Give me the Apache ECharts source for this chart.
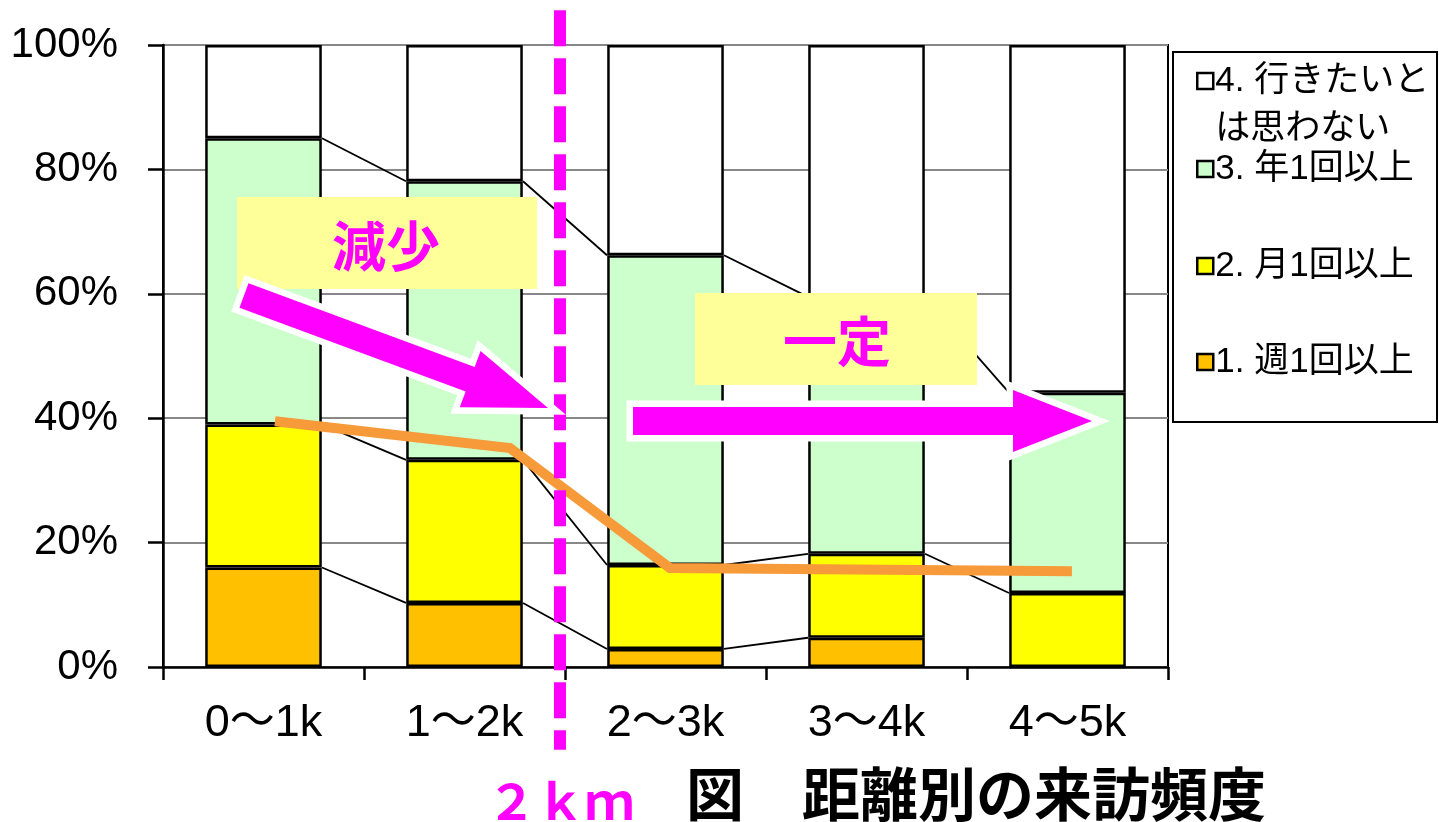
<!DOCTYPE html>
<html lang="ja">
<head>
<meta charset="UTF-8">
<title>距離別の来訪頻度</title>
<style>
  html, body { margin: 0; padding: 0; background: #fff; }
  #main { width: 1439px; height: 822px; }
</style>
</head>
<body>
<div id="main"></div>
<script src="https://cdn.jsdelivr.net/npm/echarts@6/dist/echarts.min.js"></script>
<script>
// ---- data (percent) ----
var categories = ['0～1k', '1～2k', '2～3k', '3～4k', '4～5k'];
var seriesNames = ['1. 週1回以上', '2. 月1回以上', '3. 年1回以上', '4. 行きたいと\nは思わない'];
var weekly = [16.0, 10.3, 2.9, 4.7, 0];
var monthly = [23.0, 23.0, 13.5, 13.5, 11.9];
var yearly = [46.0, 44.8, 49.8, 41.3, 32.2];
var never = [15.0, 21.9, 33.8, 40.5, 55.9];
var yTicks = [0, 20, 40, 60, 80, 100];

// hand-drawn trend line (x in category units, 0..5)
var trendX = [0.557, 1.726, 2.522, 4.522];
var trendY = [39.5, 35.2, 15.9, 15.4];
// 2km marker
var markerX = 1.975;
var markerY = [105.6, -13.3];

var colors = ['#FFC000', '#FFFF00', '#CCFFCC', '#FFFFFF'];
var latin = '"Liberation Sans", "Noto Sans CJK JP", sans-serif';
var cjk = '"Noto Sans CJK JP", sans-serif';

var myChart = echarts.init(document.getElementById('main'));

// series lines between bar tops (Excel style)
var halfBar = 0.291;
var values = [weekly, monthly, yearly, never];
var segs = [];
var cum = [0, 0, 0, 0, 0];
for (var s = 0; s < 3; s++) {
    var prev = cum.slice();
    for (var i = 0; i < categories.length; i++) cum[i] = prev[i] + values[s][i];
    for (var j = 0; j < categories.length - 1; j++) {
        if (values[s][j] === 0 && s === 0) continue;
        if (values[s][j + 1] === 0 && s === 0) continue;
        segs.push({ coords: [[j + 0.5 + halfBar, cum[j]], [j + 1.5 - halfBar, cum[j + 1]]] });
    }
}

var barSeries = [];
for (var k = 0; k < 4; k++) {
    barSeries.push({
        name: seriesNames[k],
        type: 'bar',
        stack: 'all',
        barWidth: '58%',
        z: 2,
        itemStyle: { color: colors[k], borderColor: '#000', borderWidth: 2.5 },
        emphasis: { disabled: true },
        data: values[k]
    });
}

var trendData = [];
for (var t = 0; t < trendX.length; t++) trendData.push([trendX[t], trendY[t]]);

function legendAt(name, top) {
    return {
        data: [{ name: name, icon: 'rect' }],
        orient: 'vertical',
        left: 1196,
        top: top,
        padding: 0,
        itemWidth: 16,
        itemHeight: 16,
        itemGap: 0,
        z: 6,
        selectedMode: false,
        itemStyle: { borderColor: '#000', borderWidth: 2.5 },
        formatter: function (n) {
            // first line of the two-line item sits level with its marker
            return n.indexOf('\n') >= 0 ? ' \n' + n : n;
        },
        textStyle: { fontFamily: latin, fontSize: 35, color: '#000', lineHeight: 48, padding: [0, 0, 0, -3] }
    };
}

function arrow(tail, tip, sh, hh, hl) {
    var dx = tip[0] - tail[0], dy = tip[1] - tail[1];
    var len = Math.sqrt(dx * dx + dy * dy);
    var ux = dx / len, uy = dy / len, nx = -uy, ny = ux;
    var bx = tip[0] - ux * hl, by = tip[1] - uy * hl;
    return [
        [tail[0] + nx * sh, tail[1] + ny * sh],
        [bx + nx * sh, by + ny * sh],
        [bx + nx * hh, by + ny * hh],
        [tip[0], tip[1]],
        [bx - nx * hh, by - ny * hh],
        [bx - nx * sh, by - ny * sh],
        [tail[0] - nx * sh, tail[1] - ny * sh]
    ];
}
var arrow1 = arrow([244, 295.5], [548, 408], 13, 30, 83);
var arrow2 = arrow([633, 421], [1092, 421], 14, 31, 79);

var option = {
    animation: false,
    backgroundColor: '#fff',
    grid: {
        left: 163, right: 271, top: 45, bottom: 155,
        outerBoundsMode: 'none', containLabel: false,
        show: true, borderColor: '#000', borderWidth: 2, backgroundColor: 'transparent'
    },
    legend: [
        legendAt(seriesNames[3], 9),
        legendAt(seriesNames[2], 145),
        legendAt(seriesNames[1], 242),
        legendAt(seriesNames[0], 338)
    ],
    xAxis: [{
        type: 'category',
        data: categories,
        axisLine: { lineStyle: { color: '#000', width: 2.5 } },
        axisTick: { show: true, length: 13, lineStyle: { color: '#000', width: 2.5 } },
        axisLabel: { color: '#000', fontFamily: latin, fontSize: 45, margin: 34 },
        splitLine: { show: false }
    }, {
        type: 'value', min: 0, max: 5, show: false
    }],
    yAxis: {
        type: 'value',
        min: 0, max: 100, interval: 20,
        axisLine: { show: true, lineStyle: { color: '#000', width: 2.5 } },
        axisTick: { show: true, length: 15, lineStyle: { color: '#000', width: 2.5 } },
        axisLabel: {
            color: '#000', fontFamily: latin, fontSize: 42, margin: 45,
            formatter: function (v) { return yTicks.indexOf(v) >= 0 ? v + '%' : ''; }
        },
        splitLine: { show: true, lineStyle: { color: '#888', width: 2 } }
    },
    series: barSeries.concat([
        {
            type: 'lines',
            coordinateSystem: 'cartesian2d',
            xAxisIndex: 1,
            z: 3,
            silent: true,
            lineStyle: { color: '#000', width: 1.8, opacity: 1 },
            data: segs
        },
        {
            type: 'line',
            xAxisIndex: 1,
            z: 4,
            symbol: 'none',
            silent: true,
            lineStyle: { color: '#F79A3A', width: 10, cap: 'butt', join: 'miter' },
            data: trendData
        },
        {
            type: 'line',
            xAxisIndex: 1,
            z: 8,
            clip: false,
            symbol: 'none',
            silent: true,
            lineStyle: { color: '#FF00FF', width: 12, type: [36, 12], cap: 'butt' },
            data: [[markerX, markerY[0]], [markerX, markerY[1]]]
        }
    ]),
    graphic: [
        // legend frame
        { type: 'rect', z: 1, shape: { x: 1173, y: 52, width: 264, height: 370 },
          style: { fill: '#fff', stroke: '#000', lineWidth: 2 } },
        // label boxes
        { type: 'rect', z: 20, shape: { x: 237, y: 197, width: 300, height: 92 }, style: { fill: '#FFFF99' } },
        { type: 'text', z: 21, x: 386, y: 246,
          style: { text: '減少', fill: '#FF00FF', font: 'bold 54px ' + cjk, align: 'center', verticalAlign: 'middle' } },
        { type: 'rect', z: 20, shape: { x: 695, y: 293, width: 282, height: 92 }, style: { fill: '#FFFF99' } },
        { type: 'text', z: 21, x: 837, y: 341,
          style: { text: '一定', fill: '#FF00FF', font: 'bold 54px ' + cjk, align: 'center', verticalAlign: 'middle' } },
        // arrows
        { type: 'polygon', z: 30, shape: { points: arrow1 },
          style: { fill: '#fff', stroke: '#fff', lineWidth: 13, lineJoin: 'miter', miterLimit: 10 } },
        { type: 'polygon', z: 31, shape: { points: arrow1 }, style: { fill: '#FF00FF' } },
        { type: 'polygon', z: 30, shape: { points: arrow2 },
          style: { fill: '#fff', stroke: '#fff', lineWidth: 13, lineJoin: 'miter', miterLimit: 10 } },
        { type: 'polygon', z: 31, shape: { points: arrow2 }, style: { fill: '#FF00FF' } },
        // captions
        { type: 'text', z: 21, x: 487, y: 801,
          style: { text: '２ｋｍ', fill: '#FF00FF', font: 'bold 49px ' + cjk, verticalAlign: 'middle' } },
        { type: 'text', z: 21, x: 686, y: 794,
          style: { text: '図　距離別の来訪頻度', fill: '#000', font: 'bold 58px ' + cjk, verticalAlign: 'middle' } }
    ]
};

myChart.setOption(option);
</script>
</body>
</html>
